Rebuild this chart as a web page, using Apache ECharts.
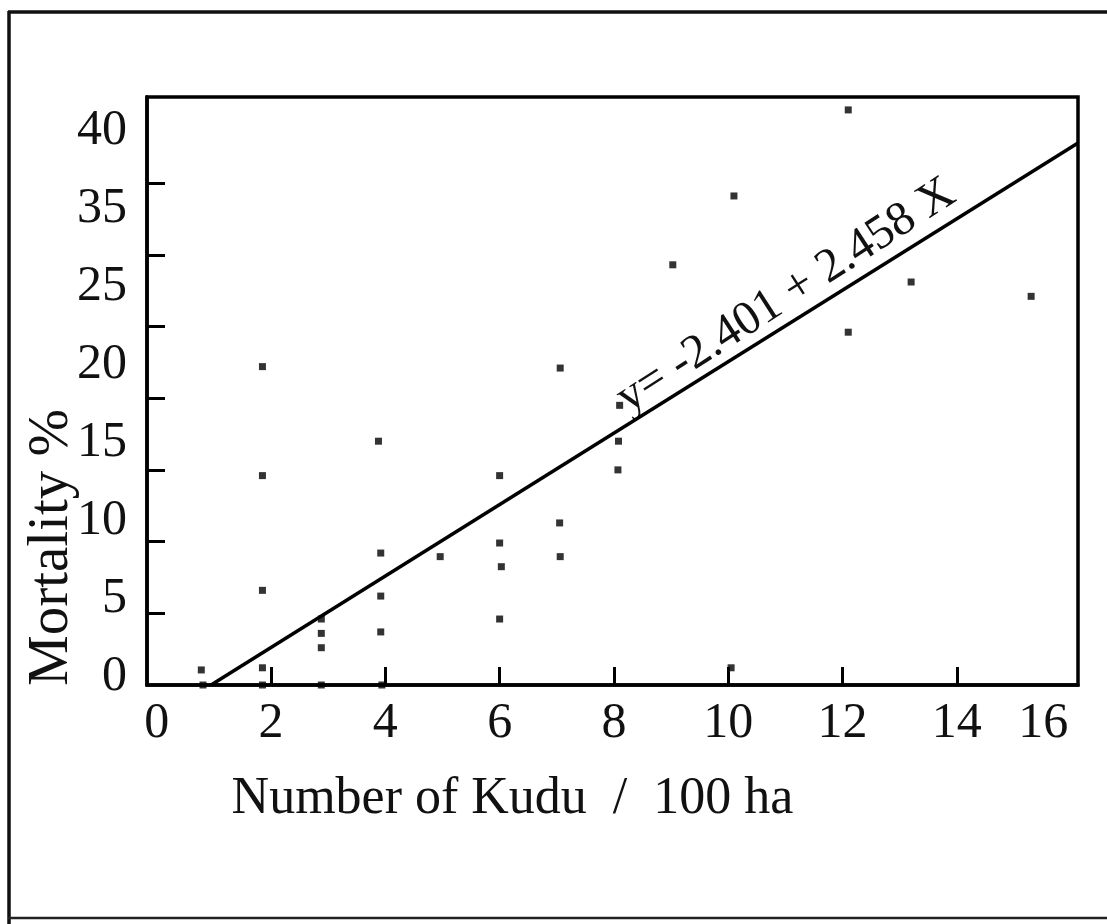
<!DOCTYPE html>
<html>
<head>
<meta charset="utf-8">
<script src="https://cdn.jsdelivr.net/npm/echarts@6/dist/echarts.min.js"></script>
<style>
html,body{margin:0;padding:0;background:#fff;}
#chart{width:1107px;height:924px;}
</style>
</head>
<body>
<div id="chart"></div>
<script>
// Kudu density (per 100 ha) and mortality (%)
const kuduDensity = [0.78, 0.81, 1.85, 1.85, 1.85, 1.85, 1.85, 2.88, 2.88, 2.88, 2.88,
  3.88, 3.92, 3.92, 3.92, 3.94, 4.96, 6.0, 6.0, 6.03, 6.0, 7.06, 7.05, 7.06,
  8.1, 8.08, 8.07, 9.03, 10.1, 10.05, 12.1, 12.1, 13.2, 15.3];
const mortality = [1.05, 0, 22.2, 14.6, 6.6, 1.2, 0, 4.6, 3.6, 2.6, 0,
  17.0, 9.2, 6.2, 3.7, 0, 8.95, 14.6, 9.9, 8.25, 4.6, 22.1, 11.3, 8.95,
  19.5, 17.0, 15.0, 29.3, 34.1, 1.2, 40.1, 24.6, 28.1, 27.1];

// Regression line y = -2.401 + 2.458 X, endpoints as drawn
const fitX = [0.95, 16.12];
const fitY = [0, 37.8];
const fitLabel = 'y= -2.401 + 2.458 X';

const xTickLabels = [0, 2, 4, 6, 8, 10, 12, 14, 16];
const xTickMarks = [2, 4, 6, 8, 10, 12, 14];
const yTickMarks = [5, 10, 15, 20, 25, 30, 35];
const yTickLabels = ['0', '5', '10', '15', '20', '25', '35', '40'];

const xName = 'Number of Kudu  /  100 ha';
const yName = 'Mortality %';

const FONT = '"Liberation Serif", "DejaVu Serif", serif';

const chart = echarts.init(document.getElementById('chart'), null, {renderer: 'canvas'});

const points = kuduDensity.map((x, i) => [x, mortality[i]]);
const fitLine = fitX.map((x, i) => [x, fitY[i]]);
const lastX = xTickLabels[xTickLabels.length - 1];

chart.setOption({
  backgroundColor: '#fff',
  animation: false,
  grid: [
    {left: 147, right: 29, top: 97, bottom: 239, show: true, borderColor: '#000', borderWidth: 3.5, containLabel: false},
    {left: 147, right: 29, top: 131, bottom: 247, show: false, containLabel: false}
  ],
  xAxis: [
    {
      type: 'value', gridIndex: 0, min: -0.17, max: 16.12,
      name: xName, nameLocation: 'middle', nameGap: 88,
      nameTextStyle: {fontFamily: FONT, fontSize: 52, color: '#111', padding: [0, 200, 0, 0]},
      axisLine: {show: true, onZero: false, lineStyle: {color: '#000', width: 3.5}},
      axisTick: {show: true, inside: true, length: 18, customValues: xTickMarks, lineStyle: {color: '#000', width: 3}},
      axisLabel: {show: true, customValues: xTickLabels, margin: 14, fontFamily: FONT, fontSize: 50, color: '#111',
        formatter: (v) => v === lastX ? '{last|' + v + '}' : String(v),
        rich: {last: {fontFamily: FONT, fontSize: 50, color: '#111', padding: [0, 56, 0, 0]}}},
      splitLine: {show: false}
    },
    {type: 'value', gridIndex: 1, min: 0, max: 1, show: false}
  ],
  yAxis: [
    {
      type: 'value', gridIndex: 0, min: 0, max: 41,
      name: yName, nameLocation: 'middle', nameGap: 66, nameRotate: 90,
      nameTextStyle: {fontFamily: FONT, fontSize: 57, color: '#111', padding: [0, 313, 0, 0]},
      axisLine: {show: true, onZero: false, lineStyle: {color: '#000', width: 3.5}},
      axisTick: {show: true, inside: true, length: 18, customValues: yTickMarks, lineStyle: {color: '#000', width: 3}},
      axisLabel: {show: false},
      splitLine: {show: false}
    },
    {
      type: 'value', gridIndex: 1, min: 0, max: 7, interval: 1,
      axisLine: {show: false}, axisTick: {show: false}, splitLine: {show: false},
      axisLabel: {show: true, margin: 20, fontFamily: FONT, fontSize: 50, color: '#111',
        formatter: (v) => yTickLabels[Math.round(v)] }
    }
  ],
  series: [
    {
      type: 'line', xAxisIndex: 0, yAxisIndex: 0, data: fitLine,
      showSymbol: false, symbol: 'none', clip: false,
      lineStyle: {color: '#000', width: 3.5}, z: 3
    },
    {
      type: 'scatter', xAxisIndex: 0, yAxisIndex: 0, data: points,
      symbol: 'rect', symbolSize: 7, clip: false,
      itemStyle: {color: '#000'}, z: 4
    }
  ],
  graphic: [
    {type: 'line', shape: {x1: 9, y1: 11, x2: 9, y2: 924}, style: {stroke: '#111', lineWidth: 3.5}},
    {type: 'line', shape: {x1: 8, y1: 12, x2: 1107, y2: 12}, style: {stroke: '#111', lineWidth: 3.5}},
    {type: 'line', shape: {x1: 8, y1: 918, x2: 1107, y2: 918}, style: {stroke: '#222', lineWidth: 2.5}},
    {type: 'text', x: 786, y: 296, rotation: 0.574,
      style: {text: fitLabel, font: '48px ' + FONT, fill: '#111', align: 'center', verticalAlign: 'middle'}}
  ]
});
</script>
</body>
</html>
